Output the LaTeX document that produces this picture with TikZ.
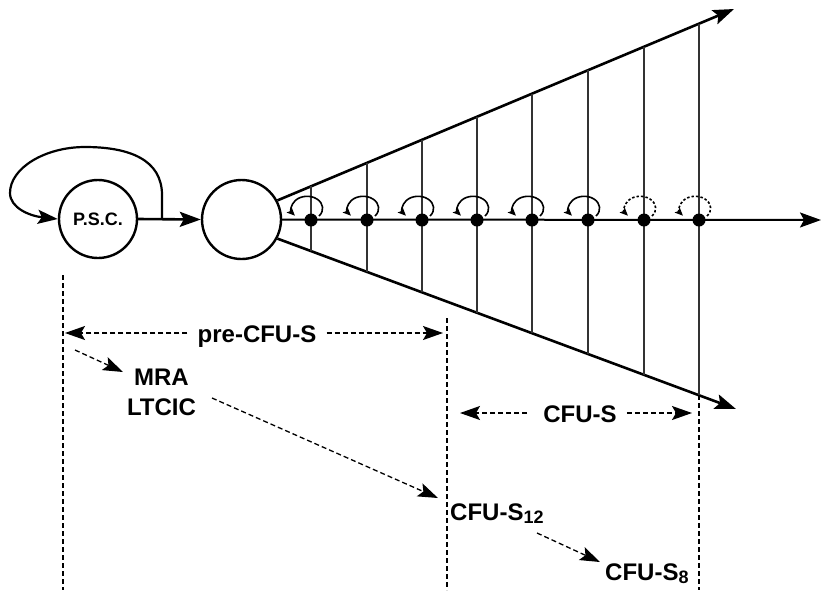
\documentclass[tikz,border=0pt]{standalone}
\usepackage{fontspec}
\setmainfont{Liberation Sans}
\usetikzlibrary{arrows.meta,calc,intersections}
\begin{document}
\begin{tikzpicture}[x=1pt,y=1pt,
  big/.style={font=\fontsize{24}{26}\selectfont\bfseries, inner sep=0pt},
  cell/.style={draw, circle, line width=2.4pt, inner sep=0pt, minimum size=78pt},
  dot/.style={circle, fill=black, inner sep=0pt, minimum size=13pt},
  mainarrow/.style={line width=2.6pt, -{Stealth[length=21pt,width=15pt,inset=4pt]}},
  axisline/.style={line width=2pt, -{Stealth[length=21pt,width=15pt,inset=4pt]}},
  thinline/.style={line width=1.1pt, black!80},
  dasharrow/.style={line width=1.3pt, dash pattern=on 5pt off 3pt, -{Stealth[length=20pt,width=14pt,inset=4pt]}},
  guide/.style={line width=1.2pt, dash pattern=on 5pt off 3pt},
  loopline/.style={line width=1.6pt, -{Stealth[length=8pt,width=7pt,inset=1.5pt]}},
  dashloop/.style={loopline, dash pattern=on 2.5pt off 2pt},
]
\useasboundingbox (0,0) rectangle (822,-590);

% cells
\node[cell, font=\fontsize{18}{20}\selectfont\bfseries] (psc) at (98,-219) {P.S.C.};
\node[cell, minimum size=79pt] (c2) at (241.5,-219.5) {};

% self-renewal loop of P.S.C.
\coordinate (ls) at (162,-219);
\draw[line width=2.2pt, -{Stealth[length=20pt,width=14pt,inset=4pt]}]
  (ls) -- (162,-195) .. controls (162,-160) and (130,-147) .. (85,-147)
  .. controls (45,-147) and (10,-168) .. (10,-193)
  .. controls (10,-208) and (30,-216) .. (psc.west);
\draw[mainarrow] (psc.east) -- (c2.west);

% cone
\coordinate (u1) at (734,-9);
\coordinate (l1) at (736,-409);
\coordinate (axend) at (821,-220);
\draw[mainarrow, name path=upper] (c2.28) -- (u1);
\draw[mainarrow, name path=lower] (c2.-28) -- (l1);

% vertical lines between cone lines
\foreach \x [count=\i] in {311,367,422,477,532,588,644,699} {
  \path[name path=vert] (\x,0) -- (\x,-600);
  \path[name intersections={of=vert and upper, by={t\i}}];
  \path[name intersections={of=vert and lower, by={b\i}}];
  \draw[thinline] (t\i) -- (b\i);
}

% axis
\draw[axisline] (c2.east) -- (axend);

% dots and their loops
\foreach \x [count=\i] in {311,367,422,477,532,588,644,699} {
  \node[dot] (d\i) at (\x,-220) {};
}
\foreach \x in {311,367,422,477,532,588} {
  \draw[loopline] ({\x+8},-216) arc[start angle=-40,end angle=218,x radius=15.5,y radius=12];
}
\foreach \x in {644,699} {
  \draw[dashloop] ({\x+8},-216) arc[start angle=-40,end angle=218,x radius=15.5,y radius=12];
}

% guide lines
\coordinate (g1t) at (63,-275);
\coordinate (g1b) at (63,-590);
\coordinate (g2t) at (447,-318);
\coordinate (g2b) at (447,-590);
\coordinate (g3b) at (699,-590);
\draw[guide] (g1t) -- (g1b);
\draw[guide] (g2t) -- (g2b);
\draw[guide] (b8) -- (g3b);

% labels
\node[big, anchor=base] (pre) at (257,-342) {pre-CFU-S};
\coordinate (preL) at (65,-333);
\coordinate (preR) at (443,-333);
\draw[dasharrow] ([xshift=-10pt]pre.west |- preL) -- (preL);
\draw[dasharrow] ([xshift=10pt]pre.east |- preR) -- (preR);

\node[big, anchor=base] (mra) at (161.5,-385) {MRA};
\node[big, anchor=base] (ltcic) at (161.5,-415) {LTCIC};

\node[big, anchor=base] (cfus) at (580,-422) {CFU-S};
\coordinate (cfL) at (460,-413);
\coordinate (cfR) at (692,-413);
\draw[dasharrow] ([xshift=-16pt]cfus.west |- cfL) -- (cfL);
\draw[dasharrow] ([xshift=10pt]cfus.east |- cfR) -- (cfR);

\node[big, anchor=base west] (c12) at (450,-520) {CFU-S\raisebox{-3pt}{\fontsize{18}{18}\selectfont 12}};
\node[big, anchor=base west] (c8) at (605,-580) {CFU-S\raisebox{-3pt}{\fontsize{18}{18}\selectfont 8}};

\coordinate (a1s) at (75,-350);
\coordinate (a1e) at (123,-372);
\coordinate (a2s) at (212,-398);
\coordinate (a2e) at (438,-498);
\coordinate (a3s) at (537,-533);
\coordinate (a3e) at (600,-562);
\draw[dasharrow] (a1s) -- (a1e);
\draw[dasharrow] (a2s) -- (a2e);
\draw[dasharrow] (a3s) -- (a3e);
\end{tikzpicture}
\end{document}
